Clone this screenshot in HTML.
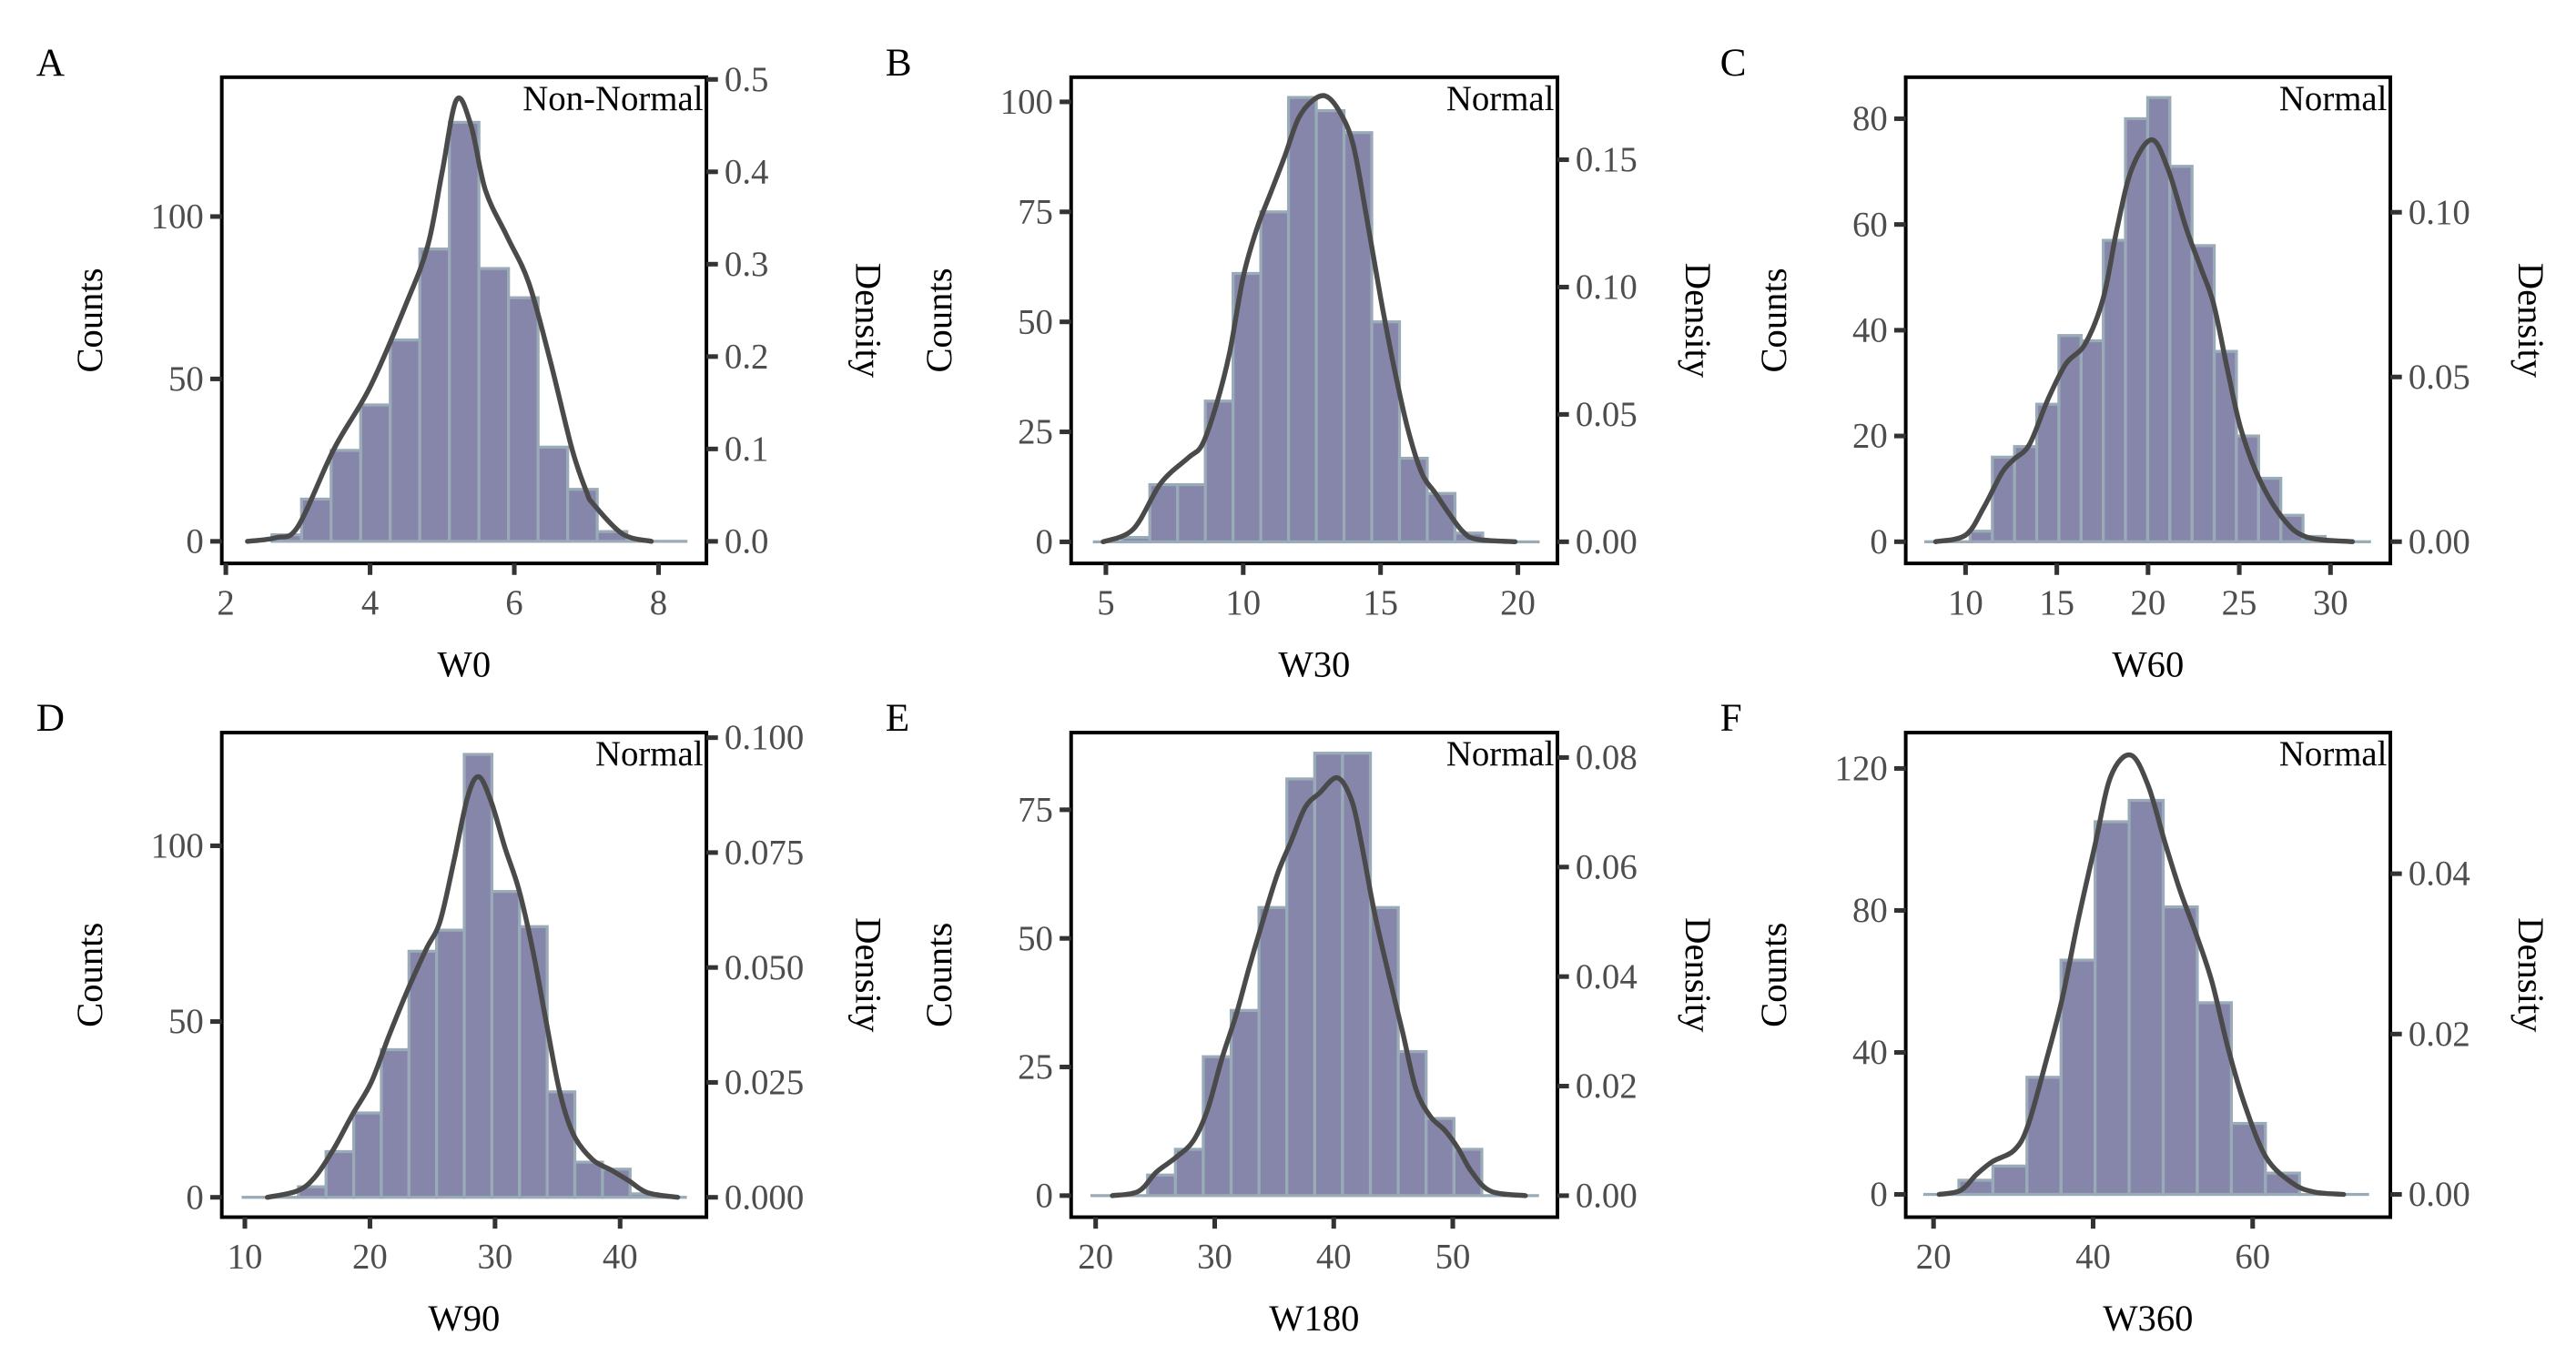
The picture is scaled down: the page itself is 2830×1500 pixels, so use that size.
<!DOCTYPE html>
<html><head><meta charset="utf-8">
<style>
html,body{margin:0;padding:0;background:#fff;}
svg{display:block;}
text{font-family:"Liberation Serif","DejaVu Serif",serif;}
</style></head>
<body>
<svg id="fig" width="2830" height="1500" viewBox="0 0 1568 831" preserveAspectRatio="none" xmlns="http://www.w3.org/2000/svg"></svg>
<script>
// ---- Data ----
const countsA = [2,13,28,42,62,90,129,84,75,29,16,3,0,0];
const binStartA = [2.64], binWidthA = [0.41];
const densXA = [2.3,2.7,3.0,3.5,4.0,4.5,4.8,5.0,5.2,5.4,5.6,5.9,6.2,6.5,6.8,7.0,7.1,7.5,7.9];
const densYA = [0,0.004,0.016,0.1,0.167,0.257,0.32,0.40,0.478,0.45,0.38,0.33,0.28,0.195,0.10,0.054,0.04,0.008,0];
const xTicksA = [2,4,6,8], cTicksA = [0,50,100], dTicksA = [0,0.1,0.2,0.3,0.4,0.5];
const dLabelsA = ["0.0","0.1","0.2","0.3","0.4","0.5"];

const countsB = [0,1,13,13,32,61,75,101,98,93,50,19,11,2,0,0];
const binStartB = [4.58], binWidthB = [1.01];
const densXB = [4.9,6.0,7.0,8.0,8.5,9.0,9.5,10,10.5,11,11.5,12,12.5,13,13.5,14,14.5,15,15.5,16,16.5,17,17.5,18,18.5,19.9];
const densYB = [0,0.005,0.023,0.033,0.038,0.053,0.074,0.104,0.123,0.137,0.151,0.166,0.173,0.175,0.169,0.156,0.127,0.096,0.068,0.044,0.027,0.019,0.011,0.004,0.001,0];
const xTicksB = [5,10,15,20], cTicksB = [0,25,50,75,100], dTicksB = [0,0.05,0.10,0.15];
const dLabelsB = ["0.00","0.05","0.10","0.15"];

const countsC = [0,0,2,16,18,26,39,38,57,80,84,71,56,36,20,12,5,1,0,0];
const binStartC = [7.82], binWidthC = [1.216];
const densXC = [8.36,10,11,12,12.65,13.5,14.5,15.5,16.55,17.55,18.3,19.1,20.2,21.1,22.1,22.9,23.6,24.4,25.1,26.1,27.4,28.7,31.2];
const densYC = [0,0.002,0.0104,0.021,0.025,0.0295,0.043,0.054,0.060,0.074,0.095,0.113,0.122,0.113,0.095,0.083,0.072,0.051,0.034,0.019,0.007,0.0014,0];
const xTicksC = [10,15,20,25,30], cTicksC = [0,20,40,60,80], dTicksC = [0,0.05,0.10];
const dLabelsC = ["0.00","0.05","0.10"];

const countsD = [0,0,3,13,24,42,70,76,126,87,77,30,10,8,1,0];
const binStartD = [9.86], binWidthD = [2.21];
const densXD = [11.8,14.2,15.6,17.1,18.6,20.1,21.5,23.0,24.5,25.6,26.7,27.8,28.7,29.7,30.8,31.9,33.0,34.1,35.2,36.3,37.8,39.3,40.7,42.2,44.6];
const densYD = [0,0.0014,0.0044,0.0105,0.018,0.025,0.035,0.045,0.054,0.060,0.073,0.087,0.0915,0.086,0.076,0.067,0.054,0.038,0.0226,0.0135,0.0082,0.0059,0.0036,0.001,0];
const xTicksD = [10,20,30,40], cTicksD = [0,50,100], dTicksD = [0,0.025,0.05,0.075,0.1];
const dLabelsD = ["0.000","0.025","0.050","0.075","0.100"];

const countsE = [0,0,4,9,27,36,56,81,86,86,56,28,15,9,0,0];
const binStartE = [19.68], binWidthE = [2.34];
const densXE = [21.4,23.6,25.1,26.7,28.2,29.4,30.6,31.8,32.9,34.1,35.3,36.4,37.6,38.8,40.3,41.5,42.3,43.4,44.6,45.8,46.9,48.1,49.3,50.4,51.6,53.2,56.1];
const densYE = [0,0.0008,0.0043,0.0069,0.010,0.0157,0.025,0.033,0.0417,0.0506,0.0589,0.0646,0.0709,0.0735,0.0763,0.0722,0.0646,0.0519,0.0405,0.0297,0.0195,0.0145,0.012,0.0088,0.0043,0.0008,0];
const xTicksE = [20,30,40,50], cTicksE = [0,25,50,75], dTicksE = [0,0.02,0.04,0.06,0.08];
const dLabelsE = ["0.00","0.02","0.04","0.06","0.08"];

const countsF = [0,4,8,33,66,105,111,81,54,20,6,0,0];
const binStartF = [18.9], binWidthF = [4.27];
const densXF = [20.7,23.4,25.4,27.4,30.1,31.8,34.1,36.1,38.1,40.2,42.2,44.7,46.9,49.0,50.9,52.9,54.9,56.9,59.0,61.7,65.0,67.7,71.4];
const densYF = [0,0.0005,0.0025,0.0041,0.0055,0.0085,0.0166,0.0243,0.0341,0.0434,0.0521,0.0548,0.051,0.0439,0.0379,0.0325,0.0265,0.0183,0.0112,0.0046,0.0014,0.0003,0];
const xTicksF = [20,40,60], cTicksF = [0,40,80,120], dTicksF = [0,0.02,0.04];
const dLabelsF = ["0.00","0.02","0.04"];

const panelLetters = ["A","B","C","D","E","F"];
const xTitles = ["W0","W30","W60","W90","W180","W360"];
const normality = ["Non-Normal","Normal","Normal","Normal","Normal","Normal"];

// ---- Layout (axis domains and box positions) ----
const layout = [
 {x0:135,x1:430,y0:47,y1:343,xd:[1.944,8.664],cd:[-6.8,142.9],dd:[-0.0239,0.5024]},
 {x0:652,x1:948,y0:47,y1:343,xd:[3.735,21.44],cd:[-4.9,105.6],dd:[-0.0085,0.1824]},
 {x0:1160,x1:1455,y0:47,y1:343,xd:[6.72,33.28],cd:[-4.1,87.85],dd:[-0.0066,0.141]},
 {x0:135,x1:430,y0:446,y1:741,xd:[8.155,46.9],cd:[-5.65,132.2],dd:[-0.00432,0.1011]},
 {x0:652,x1:948,y0:446,y1:741,xd:[17.94,58.79],cd:[-4.19,90.0],dd:[-0.00393,0.08455]},
 {x0:1160,x1:1455,y0:446,y1:741,xd:[16.51,77.26],cd:[-6.41,130.1],dd:[-0.00284,0.0576]}
];
const panels = [
 {counts:countsA,bs:binStartA,bw:binWidthA,dx:densXA,dy:densYA,xt:xTicksA,ct:cTicksA,dt:dTicksA,dl:dLabelsA},
 {counts:countsB,bs:binStartB,bw:binWidthB,dx:densXB,dy:densYB,xt:xTicksB,ct:cTicksB,dt:dTicksB,dl:dLabelsB},
 {counts:countsC,bs:binStartC,bw:binWidthC,dx:densXC,dy:densYC,xt:xTicksC,ct:cTicksC,dt:dTicksC,dl:dLabelsC},
 {counts:countsD,bs:binStartD,bw:binWidthD,dx:densXD,dy:densYD,xt:xTicksD,ct:cTicksD,dt:dTicksD,dl:dLabelsD},
 {counts:countsE,bs:binStartE,bw:binWidthE,dx:densXE,dy:densYE,xt:xTicksE,ct:cTicksE,dt:dTicksE,dl:dLabelsE},
 {counts:countsF,bs:binStartF,bw:binWidthF,dx:densXF,dy:densYF,xt:xTicksF,ct:cTicksF,dt:dTicksF,dl:dLabelsF}
];

const NS = "http://www.w3.org/2000/svg";
const svg = document.getElementById('fig');
function mk(tag, parent, attrs){
  const e = document.createElementNS(NS, tag);
  for (const k in attrs) e.setAttribute(k, attrs[k]);
  parent.appendChild(e);
  return e;
}
function txt(parent, s, attrs){ const t = mk('text', parent, attrs); t.textContent = s; return t; }

panels.forEach((p, i) => {
  const L = layout[i];
  const sx = v => L.x0 + (v - L.xd[0]) / (L.xd[1] - L.xd[0]) * (L.x1 - L.x0);
  const sc = v => L.y1 - (v - L.cd[0]) / (L.cd[1] - L.cd[0]) * (L.y1 - L.y0);
  const sd = v => L.y1 - (v - L.dd[0]) / (L.dd[1] - L.dd[0]) * (L.y1 - L.y0);
  const g = mk('g', svg, {});
  
  

  const letter = txt(g, panelLetters[i], {x: L.x0 - 113, y: L.y0 - 1, 'font-size': 24, fill: '#000'});
  
  

  const bars = mk('g', g, {});
  
  
  p.counts.forEach((c, k) => {
    const a = p.bs[0] + k * p.bw[0], b = a + p.bw[0];
    const yTop = sc(c), y0 = sc(0);
    const r = mk('rect', bars, {x: sx(a), y: yTop, width: sx(b) - sx(a), height: Math.max(y0 - yTop, 0.01),
      fill: '#8686ab', stroke: '#9aabb8', 'stroke-width': 1.8});
    
    
  });

  const pts = p.dx.map((x, k) => [sx(x), sd(p.dy[k])]);
  let d = 'M' + pts[0][0] + ',' + pts[0][1];
  for (let k = 0; k < pts.length - 1; k++) {
    const p0 = pts[Math.max(k - 1, 0)], p1 = pts[k], p2 = pts[k + 1], p3 = pts[Math.min(k + 2, pts.length - 1)];
    const c1x = p1[0] + (p2[0] - p0[0]) / 6, c1y = p1[1] + (p2[1] - p0[1]) / 6;
    const c2x = p2[0] - (p3[0] - p1[0]) / 6, c2y = p2[1] - (p3[1] - p1[1]) / 6;
    d += ' C' + c1x + ',' + c1y + ' ' + c2x + ',' + c2y + ' ' + p2[0] + ',' + p2[1];
  }
  const curve = mk('path', g, {d: d, fill: 'none', stroke: '#4a4a4a', 'stroke-width': 3, 'stroke-linecap': 'round'});
  
  

  const frame = mk('rect', g, {x: L.x0, y: L.y0, width: L.x1 - L.x0, height: L.y1 - L.y0, fill: 'none', stroke: '#000', 'stroke-width': 2.2});
  
  

  p.ct.forEach(v => {
    const y = sc(v);
    const t = mk('line', g, {x1: L.x0 - 7, x2: L.x0, y1: y, y2: y, stroke: '#333', 'stroke-width': 2.8});
    
    
    const l = txt(g, String(v), {x: L.x0 - 11, y: y + 7, 'font-size': 21.5, fill: '#4d4d4d', 'text-anchor': 'end'});
    
    
  });
  p.dt.forEach((v, k) => {
    const y = sd(v);
    const t = mk('line', g, {x1: L.x1, x2: L.x1 + 7, y1: y, y2: y, stroke: '#333', 'stroke-width': 2.8});
    
    
    const l = txt(g, p.dl[k], {x: L.x1 + 11, y: y + 7, 'font-size': 21.5, fill: '#4d4d4d'});
    
    
  });
  p.xt.forEach(v => {
    const x = sx(v);
    const t = mk('line', g, {x1: x, x2: x, y1: L.y1, y2: L.y1 + 7, stroke: '#333', 'stroke-width': 2.8});
    
    
    const l = txt(g, String(v), {x: x, y: L.y1 + 31, 'font-size': 21.5, fill: '#4d4d4d', 'text-anchor': 'middle'});
    
    
  });

  const cx = (L.x0 + L.x1) / 2, cy = (L.y0 + L.y1) / 2;
  const xt = txt(g, xTitles[i], {x: cx, y: L.y1 + 69, 'font-size': 22.5, fill: '#000', 'text-anchor': 'middle'});
  
  
  const yl = txt(g, 'Counts', {x: 0, y: 0, 'font-size': 22.5, fill: '#000', 'text-anchor': 'middle',
    transform: 'translate(' + (L.x0 - 73) + ',' + cy + ') rotate(-90)'});
  
  
  const dOff = (i % 3 === 0) ? 91 : 78;
  const yr = txt(g, 'Density', {x: 0, y: 0, 'font-size': 22.5, fill: '#000', 'text-anchor': 'middle',
    transform: 'translate(' + (L.x1 + dOff) + ',' + cy + ') rotate(90)'});
  
  
  const an = txt(g, normality[i], {x: L.x1 - 2, y: L.y0 + 20, 'font-size': 21.5, fill: '#000', 'text-anchor': 'end'});
  
  
});
</script>
</body></html>
